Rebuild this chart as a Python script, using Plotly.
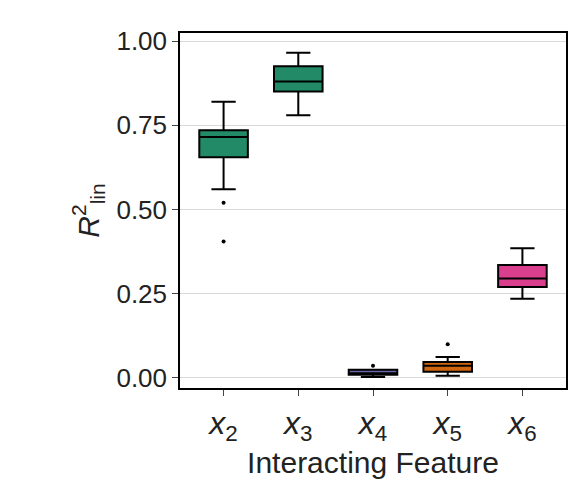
import plotly.graph_objects as go

cats = ["x2", "x3", "x4", "x5", "x6"]
labels = ["<i>x</i><sub>2</sub>", "<i>x</i><sub>3</sub>", "<i>x</i><sub>4</sub>", "<i>x</i><sub>5</sub>", "<i>x</i><sub>6</sub>"]
lower = [0.56, 0.78, 0.003, 0.006, 0.235]
q1 = [0.655, 0.85, 0.009, 0.018, 0.27]
median = [0.715, 0.88, 0.014, 0.036, 0.295]
q3 = [0.735, 0.925, 0.024, 0.047, 0.335]
upper = [0.82, 0.965, 0.02, 0.062, 0.385]
colors = ["#238a68", "#238a68", "#6a64a8", "#d0650f", "#d93f8c"]
out_x = ["x2", "x2", "x4", "x5"]
out_y = [0.52, 0.405, 0.036, 0.10]

fig = go.Figure()
for i, c in enumerate(cats):
    fig.add_trace(go.Box(x=[c], q1=[q1[i]], median=[median[i]], q3=[q3[i]],
                         lowerfence=[min(lower[i], q1[i])], upperfence=[max(upper[i], q3[i])],
                         fillcolor=colors[i], line=dict(color="black", width=2),
                         width=0.65, whiskerwidth=0.5, boxpoints=False, showlegend=False))
fig.add_trace(go.Scatter(x=out_x, y=out_y, mode="markers",
                         marker=dict(color="black", size=4), showlegend=False))
fig.update_layout(
    width=581, height=504, plot_bgcolor="white", paper_bgcolor="white",
    margin=dict(l=172, r=23, t=25, b=124, autoexpand=False),
    font=dict(family="Arial, Liberation Sans", size=26, color="#222"),
    xaxis=dict(tickmode="array", tickvals=cats, ticktext=labels, showline=True,
               linecolor="black", linewidth=1.5, mirror=True, ticks="outside",
               ticklen=6, tickfont=dict(size=32), automargin=False,
               title=dict(text="Interacting Feature", font=dict(size=30), standoff=6)),
    yaxis=dict(range=[-0.03, 1.024], tickvals=[0, 0.25, 0.5, 0.75, 1.0],
               ticktext=["0.00", "0.25", "0.50", "0.75", "1.00"], automargin=False,
               showgrid=True, gridcolor="#d9d9d9", zeroline=False, showline=True,
               linecolor="black", linewidth=1.5, mirror=True, ticks="outside", ticklen=6,
               title=dict(text="<i>R</i><sup>2</sup><sub>lin</sub>", font=dict(size=30), standoff=8)),
)
fig.write_html("out.html")
